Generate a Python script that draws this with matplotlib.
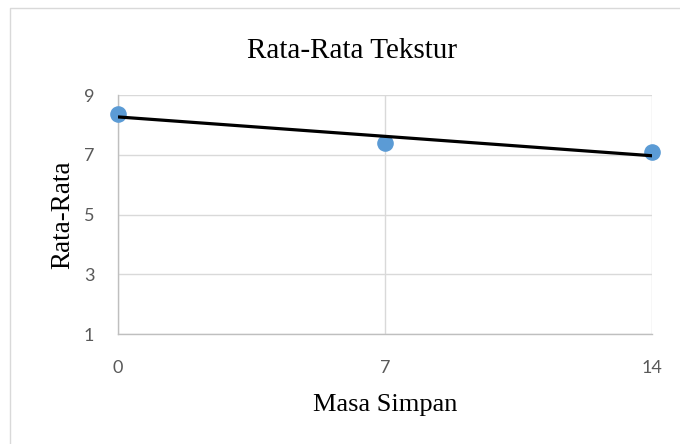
import numpy as np
import matplotlib
matplotlib.use("Agg")
import matplotlib.pyplot as plt
from matplotlib.lines import Line2D

# data
masa_simpan = [0, 7, 14]
rata_rata = [8.38, 7.39, 7.08]
x_ticks = [0, 7, 14]
y_ticks = [1, 3, 5, 7, 9]

fig = plt.figure(figsize=(6.8, 4.44), dpi=100)
ax = fig.add_axes([0.1735, 0.2477, 0.7855, 0.5383])

# outer chart border (only top and left edges are inside the picture)
fig.lines.append(Line2D([9.5 / 680, 9.5 / 680, 1], [0, 1 - 8.5 / 444, 1 - 8.5 / 444],
                        transform=fig.transFigure, color="#d9d9d9", linewidth=1))

ax.set_xlim(0, 14)
ax.set_ylim(1, 9)
ax.set_xticks(x_ticks)
ax.set_yticks(y_ticks)
ax.grid(True, color="#d9d9d9", linewidth=1)
ax.set_axisbelow(True)
for s in ["top", "right"]:
    ax.spines[s].set_visible(False)
for s in ["left", "bottom"]:
    ax.spines[s].set_color("#bfbfbf")
    ax.spines[s].set_linewidth(1)
ax.tick_params(length=0, labelsize=13, labelcolor="#595959")
ax.tick_params(axis="x", pad=19)
ax.tick_params(axis="y", pad=17)
for lab in ax.get_xticklabels() + ax.get_yticklabels():
    lab.set_fontfamily("Lato")

ax.scatter(masa_simpan, rata_rata, s=120, color="#5b9bd5", zorder=3, clip_on=False)

# linear trendline
k, b = np.polyfit(masa_simpan, rata_rata, 1)
xs = np.array([masa_simpan[0], masa_simpan[-1]])
ax.plot(xs, k * xs + b, color="black", linewidth=2.3, zorder=4, solid_capstyle="butt")

fig.text(352 / 680, 1 - 58 / 444, "Rata-Rata Tekstur", ha="center", va="baseline",
         fontsize=21, family="Liberation Serif")
fig.text(385 / 680, 1 - 411 / 444, "Masa Simpan", ha="center", va="baseline",
         fontsize=19, family="Liberation Serif")
fig.text(63 / 680, 1 - 215 / 444, "Rata-Rata", ha="center", va="center", rotation=90,
         fontsize=19.5, family="Liberation Serif")

fig.savefig("out.png", dpi=100)
